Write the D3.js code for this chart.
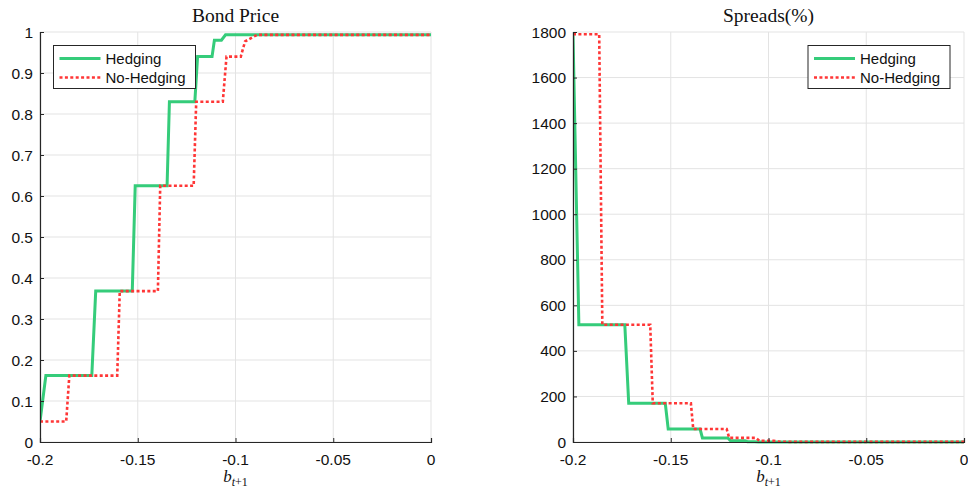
<!DOCTYPE html>
<html>
<head>
<meta charset="utf-8">
<script src="https://cdn.jsdelivr.net/npm/d3@7"></script>
<style>
  body { margin: 0; background: #fff; }
  svg text { font-family: "Liberation Sans", Arial, sans-serif; }
</style>
</head>
<body>
<svg id="chart" width="968" height="492"></svg>
<script>
// grid of b_{t+1} values where the policy steps happen
var bHedge   = [-0.2, -0.1970, -0.1735, -0.1715, -0.1528, -0.1513, -0.1350, -0.1338, -0.1208, -0.1194, -0.1120, -0.1108, -0.1072, -0.1051, 0];
var bNoHedge = [-0.2, -0.1866, -0.1850, -0.1605, -0.1592, -0.1397, -0.1385, -0.1214, -0.1201, -0.1065, -0.1046, -0.0973, -0.0951, -0.0890, 0];

var priceHedge   = [0.05, 0.162, 0.162, 0.368, 0.368, 0.625, 0.625, 0.83, 0.83, 0.94, 0.94, 0.98, 0.98, 0.993, 0.993];
var priceNoHedge = [0.05, 0.05, 0.162, 0.162, 0.368, 0.368, 0.625, 0.625, 0.83, 0.83, 0.94, 0.94, 0.977, 0.993, 0.993];

var spreadHedge   = [1790, 515, 515, 170, 170, 57, 57, 18, 18, 5, 5, 1, 1, 0.4, 0.4];
var spreadNoHedge = [1790, 1790, 515, 515, 170, 170, 57, 57, 18, 18, 5, 5, 1.5, 0.5, 0.5];

var xTicks = [-0.2, -0.15, -0.1, -0.05, 0];
var xTickLabels = ["-0.2", "-0.15", "-0.1", "-0.05", "0"];
var priceTicks = d3.range(0, 1.0001, 0.1);
var spreadTicks = d3.range(0, 1801, 200);

var seriesNames = ["Hedging", "No-Hedging"];
var green = "#35cc7a", red = "#ff3636";

var svg = d3.select("#chart");

function makePanel(opt) {
    var x = d3.scaleLinear().domain([-0.2, 0]).range([opt.left, opt.right]);
    var y = d3.scaleLinear().domain(opt.yDomain).range([442, 32]);
    var g = svg.append("g");

    // grid
    g.selectAll(".vg").data(xTicks).enter().append("line")
        .attr("x1", function (d) { return x(d); }).attr("x2", function (d) { return x(d); })
        .attr("y1", y.range()[0]).attr("y2", y.range()[1])
        .attr("stroke", "#e3e3e3").attr("stroke-width", 1);
    g.selectAll(".hg").data(opt.yTicks).enter().append("line")
        .attr("x1", opt.left).attr("x2", opt.right)
        .attr("y1", function (d) { return y(d); }).attr("y2", function (d) { return y(d); })
        .attr("stroke", "#e3e3e3").attr("stroke-width", 1);

    // clip
    var clipId = "clip" + opt.left;
    svg.append("clipPath").attr("id", clipId).append("rect")
        .attr("x", opt.left).attr("y", 30).attr("width", opt.right - opt.left + 2).attr("height", 414);

    var line = d3.line()
        .x(function (d) { return x(d[0]); })
        .y(function (d) { return y(d[1]); });

    g.append("path")
        .attr("d", line(d3.zip(bHedge, opt.hedge)))
        .attr("clip-path", "url(#" + clipId + ")")
        .attr("fill", "none").attr("stroke", green).attr("stroke-width", 3);
    g.append("path")
        .attr("d", line(d3.zip(bNoHedge, opt.noHedge)))
        .attr("clip-path", "url(#" + clipId + ")")
        .attr("fill", "none").attr("stroke", red).attr("stroke-width", 2.6)
        .attr("stroke-dasharray", "3,2.4");

    // axes (ticks pointing inward)
    var xAxis = g.append("g").attr("transform", "translate(0,442)")
        .call(d3.axisTop(x).tickValues(xTicks).tickSize(4));
    xAxis.selectAll("text").remove();
    g.selectAll(".xl").data(xTicks).enter().append("text")
        .attr("x", function (d) { return x(d); }).attr("y", 465)
        .attr("text-anchor", "middle").attr("font-size", 15.5).attr("fill", "#111")
        .text(function (d, i) { return xTickLabels[i]; });

    var yAxis = g.append("g").attr("transform", "translate(" + opt.left + ",0)")
        .call(d3.axisRight(y).tickValues(opt.yTicks).tickSize(4));
    yAxis.selectAll("text").remove();
    g.selectAll(".yl").data(opt.yTicks).enter().append("text")
        .attr("x", opt.left - 7).attr("y", function (d) { return y(d) + 5.5; })
        .attr("text-anchor", "end").attr("font-size", 15.5).attr("fill", "#111")
        .text(opt.yFormat);

    [xAxis, yAxis].forEach(function (a) {
        a.select(".domain").attr("stroke", "#262626").attr("stroke-width", 1.2);
        a.selectAll(".tick line").attr("stroke", "#262626");
    });

    // title and x label
    var cx = (opt.left + opt.right) / 2;
    g.append("text").attr("x", cx).attr("y", 22).attr("text-anchor", "middle")
        .style("font-family", "'Liberation Serif', 'DejaVu Serif', serif").attr("font-size", 19.5)
        .attr("fill", "#111").text(opt.title);
    var lab = g.append("text").attr("x", cx).attr("y", 482).attr("text-anchor", "middle")
        .style("font-family", "'Liberation Serif', 'DejaVu Serif', serif").attr("fill", "#111");
    lab.append("tspan").attr("font-size", 17).attr("font-style", "italic").text("b");
    lab.append("tspan").attr("font-size", 12).attr("dy", 4).attr("font-style", "italic").text("t");
    lab.append("tspan").attr("font-size", 12).text("+1");

    // legend
    var lg = g.append("g").attr("transform", "translate(" + opt.legX + ",45.5)");
    lg.append("rect").attr("width", 142).attr("height", 43)
        .attr("fill", "#fff").attr("stroke", "#262626").attr("stroke-width", 1);
    seriesNames.forEach(function (name, i) {
        var yy = 13 + i * 19;
        lg.append("line").attr("x1", 6).attr("x2", 47).attr("y1", yy).attr("y2", yy)
            .attr("stroke", i === 0 ? green : red)
            .attr("stroke-width", i === 0 ? 3 : 2.6)
            .attr("stroke-dasharray", i === 0 ? null : "3,2.4");
        lg.append("text").attr("x", 52).attr("y", yy + 5.5).attr("font-size", 15)
            .attr("fill", "#111").text(name);
    });
}

makePanel({
    left: 40, right: 431, yDomain: [0, 1], yTicks: priceTicks,
    yFormat: function (d) { return d3.format(".1~f")(d); },
    hedge: priceHedge, noHedge: priceNoHedge,
    title: "Bond Price", legX: 53.5
});
makePanel({
    left: 573, right: 964, yDomain: [0, 1800], yTicks: spreadTicks,
    yFormat: function (d) { return d; },
    hedge: spreadHedge, noHedge: spreadNoHedge,
    title: "Spreads(%)", legX: 808
});
</script>
</body>
</html>
